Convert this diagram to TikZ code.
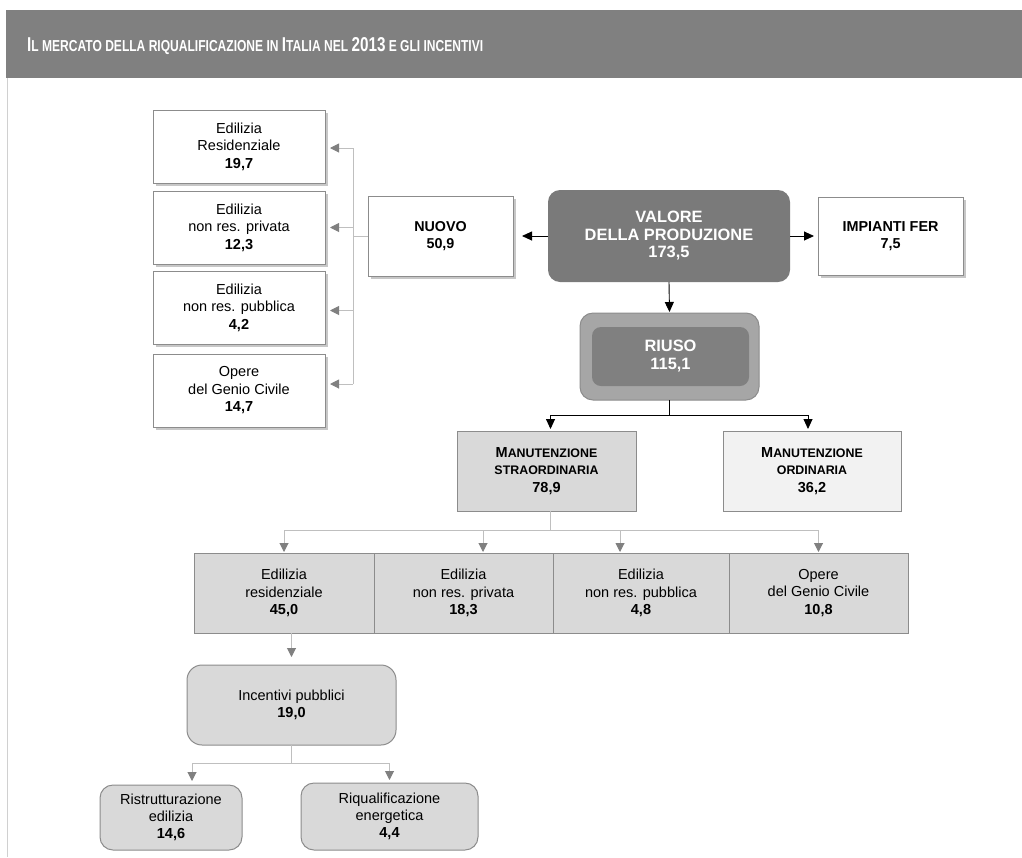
\documentclass[tikz,border=0pt]{standalone}
\usepackage{fontspec}
\usepackage{graphicx}
\setmainfont{Liberation Sans}
\usetikzlibrary{arrows.meta,shadows,calc}

\definecolor{barcol}{HTML}{808080}
\definecolor{framecol}{HTML}{8C8C8C}
\definecolor{darkfill}{HTML}{7A7A7A}
\definecolor{riusoout}{HTML}{A6A6A6}
\definecolor{riusoin}{HTML}{808080}
\definecolor{boxgray}{HTML}{D9D9D9}
\definecolor{boxlight}{HTML}{F2F2F2}
\definecolor{linegray}{HTML}{BFBFBF}
\definecolor{tipgray}{HTML}{808080}
\definecolor{pageline}{HTML}{D0D0D0}

% title in pseudo small capitals
\newcommand\tbig[1]{{\fontsize{19.5}{20}\selectfont\bfseries #1}}
\newcommand\tsml[1]{{\fontsize{15.4}{20}\selectfont\bfseries #1}}
% bold pseudo small capitals for the maintenance boxes
\newcommand\hbig[1]{{\fontsize{14.5}{20}\selectfont\bfseries #1}}
\newcommand\hsml[1]{{\fontsize{12.4}{20}\selectfont\bfseries #1}}

\begin{document}
\begin{tikzpicture}[x=1pt,y=-1pt,
  sz/.style 2 args={minimum width=#1pt, minimum height=#2pt},
  box/.style={draw=framecol, line width=1pt, inner sep=0pt, outer sep=0pt,
    align=center, text=black, font=\fontsize{14.5}{17.5}\selectfont},
  whitebox/.style={box, fill=white,
    drop shadow={shadow xshift=2.5pt, shadow yshift=-2.5pt, fill=black, opacity=0.22}},
  graybox/.style={box, fill=boxgray},
  lightbox/.style={box, fill=boxlight},
  roundbox/.style={graybox, rounded corners=13pt},
  darkbox/.style={box, draw=none, fill=darkfill, rounded corners=12pt, text=white,
    font=\fontsize{16.4}{17.5}\selectfont\bfseries},
  blkline/.style={draw=black, line width=0.9pt},
  blkarr/.style={blkline, -{Triangle[length=10pt,width=9pt]}},
  grayline/.style={draw=linegray, line width=1pt},
  grayarr/.style={grayline, -{Triangle[length=9pt,width=9pt,color=tipgray]}},
]
\useasboundingbox (0,0) rectangle (1022,857);

% page frame and title bar
\fill[barcol] (6,10) rectangle (1022,78);
\draw[pageline, line width=1pt] (7,78) -- (7,857);
\node[anchor=base west, inner sep=0pt, text=white] (title) at (27,51)
  {\resizebox{456pt}{14pt}{\tbig{I}\tsml{L MERCATO DELLA RIQUALIFICAZIONE IN }\tbig{I}\tsml{TALIA NEL }\tbig{2013}\tsml{ E GLI INCENTIVI}}};

% new construction breakdown
\node[whitebox, sz={172}{73}] (L1) at (239,146.5) {Edilizia\\Residenziale\\\textbf{19,7}};
\node[whitebox, sz={172}{73}] (L2) at (239,227.5) {Edilizia\\non res. privata\\\textbf{12,3}};
\node[whitebox, sz={172}{73}] (L3) at (239,307.5) {Edilizia\\non res. pubblica\\\textbf{4,2}};
\node[whitebox, sz={172}{73}] (L4) at (239,390.5) {Opere\\del Genio Civile\\\textbf{14,7}};

% top level
\node[whitebox, sz={145}{80}, font=\fontsize{14.3}{17}\selectfont\bfseries] (NUOVO) at (440.5,236) {NUOVO\\50,9};
\node[darkbox, sz={242}{92}] (VAL) at (669,236) {VALORE\\DELLA PRODUZIONE\\173,5};
\node[whitebox, sz={145}{78}, font=\fontsize{14.4}{17}\selectfont\bfseries] (IMP) at (890.5,236) {IMPIANTI FER\\7,5};

% reuse
\node[box, draw=framecol, fill=riusoout, rounded corners=13pt, sz={179}{87}] (RIUSOo) at (669.5,356.5) {};
\node[darkbox, fill=riusoin, rounded corners=9pt, sz={157}{59}, font=\fontsize{16.4}{18}\selectfont\bfseries] (RIUSO) at (670.5,356.5) {RIUSO\\115,1};

% maintenance
\node[graybox, sz={179}{80}] (MS) at (546.5,471)
  {\hbig{M}\hsml{ANUTENZIONE}\\\hsml{STRAORDINARIA}\\\hbig{78,9}};
\node[lightbox, sz={178}{80}] (MO) at (812,471)
  {\hbig{M}\hsml{ANUTENZIONE}\\\hsml{ORDINARIA}\\\hbig{36,2}};

% extraordinary maintenance by sector
\node[graybox, sz={180}{80}] (R1) at (284,593) {Edilizia\\residenziale\\\textbf{45,0}};
\node[graybox, sz={179}{80}] (R2) at (463.5,593) {Edilizia\\non res. privata\\\textbf{18,3}};
\node[graybox, sz={176}{80}] (R3) at (641,593) {Edilizia\\non res. pubblica\\\textbf{4,8}};
\node[graybox, sz={179}{80}] (R4) at (818.5,593) {Opere\\del Genio Civile\\\textbf{10,8}};

% incentives
\node[roundbox, sz={209}{80}, rounded corners=15pt] (IP) at (291.5,705) {Incentivi pubblici\\\textbf{19,0}};
\node[roundbox, sz={142}{65}, font=\fontsize{14.5}{17}\selectfont] (RE) at (171,817.5) {Ristrutturazione\\edilizia\\\textbf{14,6}};
\node[roundbox, sz={177}{67}, font=\fontsize{14.5}{17}\selectfont] (RQ) at (389.5,816.5) {Riqualificazione\\energetica\\\textbf{4,4}};

% connectors: production value
\draw[blkarr, shorten >=9pt] (VAL.west) -- (NUOVO.east);
\draw[blkarr, shorten >=4pt] (VAL.east) -- (IMP.west);
\draw[blkarr, shorten >=1pt] (VAL.south) -- (RIUSOo.north);

% connectors: new construction split
\coordinate (t1) at (353,148);
\coordinate (t1b) at (353,384);
\draw[grayline] (NUOVO.west) -- (NUOVO.west -| t1);
\draw[grayline] (t1) -- (t1b);
\draw[grayarr, shorten >=5pt] (t1) -- (L1.east |- t1);
\draw[grayarr, shorten >=5pt] (L2.east -| t1) -- (L2.east);
\draw[grayarr, shorten >=5pt] ($(L3.east -| t1)+(0,3)$) -- ($(L3.east)+(0,3)$);
\draw[grayarr, shorten >=5pt] (t1b) -- (L4.east |- t1b);

% connectors: reuse split
\coordinate (j2) at ($(RIUSOo.south)+(0,15)$);
\draw[blkline] (RIUSOo.south) -- (j2);
\draw[blkarr, shorten >=2pt] (j2) -| ($(MS.north)+(4,0)$);
\draw[blkarr, shorten >=2pt] (j2) -| ($(MO.north)+(-4,0)$);

% connectors: extraordinary maintenance split
\coordinate (j3) at ($(MS.south)+(4,19)$);
\coordinate (a2) at ($(R2.north)+(19.5,0)$);
\coordinate (a3) at ($(R3.north)+(-21,0)$);
\draw[grayline] ($(MS.south)+(4,0)$) -- (j3);
\draw[grayarr, shorten >=1pt] (j3) -| (R1.north);
\draw[grayarr, shorten >=1pt] (j3) -| (R4.north);
\draw[grayarr, shorten >=1pt] (a2 |- j3) -- (a2);
\draw[grayarr, shorten >=1pt] (a3 |- j3) -- (a3);

% connectors: incentives
\draw[grayarr, shorten >=8pt] (IP.north |- R1.south) -- (IP.north);
\coordinate (j4) at ($(IP.south)+(0,18)$);
\coordinate (a5) at ($(RE.north)+(21,0)$);
\draw[grayline] (IP.south) -- (j4);
\draw[grayarr, shorten >=4pt] (j4) -| (a5);
\draw[grayarr, shorten >=3pt] (j4) -| (RQ.north);
\end{tikzpicture}
\end{document}
